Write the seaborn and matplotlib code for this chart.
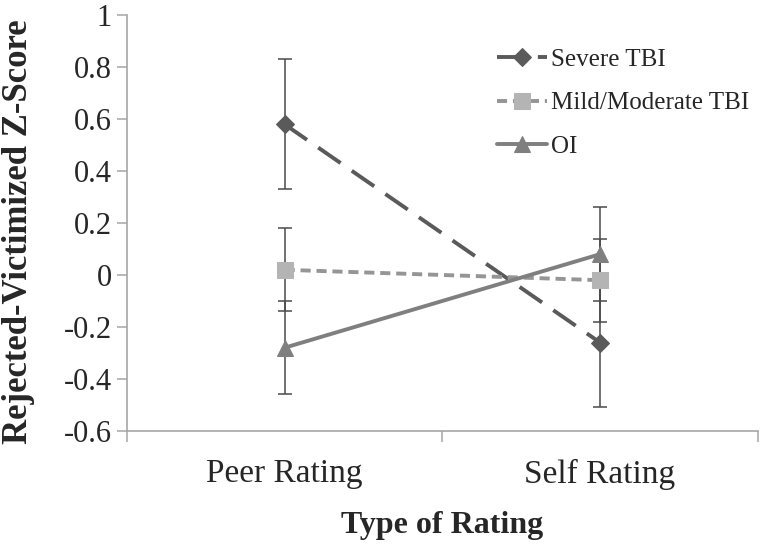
import numpy as np
import pandas as pd
import matplotlib
matplotlib.use("Agg")
import matplotlib.pyplot as plt
import seaborn as sns

# data
ratings = ["Peer Rating", "Self Rating"]
groups = ["Severe TBI", "Mild/Moderate TBI", "OI"]
severe_mean = [0.58, -0.26]
severe_err = [0.25, 0.25]
mild_mean = [0.02, -0.02]
mild_err = [0.16, 0.16]
oi_mean = [-0.28, 0.08]
oi_err = [0.18, 0.18]

means = [severe_mean, mild_mean, oi_mean]
errs = [severe_err, mild_err, oi_err]

rows = []
for g, m in zip(groups, means):
    for r, v in zip(ratings, m):
        rows.append({"Rating": r, "Group": g, "Z": v})
df = pd.DataFrame(rows)

sns.set_theme(style="white")
plt.rcParams["font.family"] = ["Liberation Serif", "DejaVu Serif"]

fig, ax = plt.subplots(figsize=(7.6, 5.44), dpi=100)
fig.subplots_adjust(left=0.167, right=0.997, top=0.972, bottom=0.208)

line_colors = {"Severe TBI": "#5a5a5a", "Mild/Moderate TBI": "#959595", "OI": "#7f7f7f"}
marker_colors = {"Severe TBI": "#5a5a5a", "Mild/Moderate TBI": "#b4b4b4", "OI": "#7f7f7f"}
markers = {"Severe TBI": "D", "Mild/Moderate TBI": "s", "OI": "^"}
msize = {"Severe TBI": 9, "Mild/Moderate TBI": 11, "OI": 12}
dashes = {"Severe TBI": (7, 3.5), "Mild/Moderate TBI": (2.6, 1.5), "OI": ""}

# error bars first so lines sit on top
for g, m, e in zip(groups, means, errs):
    ax.errorbar([0, 1], m, yerr=e, fmt="none", ecolor="#4a4a4a",
                elinewidth=1.1, capsize=5, capthick=1.1, zorder=2)

for g in groups:
    sub = df[df["Group"] == g]
    sns.lineplot(data=sub, x="Rating", y="Z", ax=ax, color=line_colors[g],
                 linewidth=2.8, dashes=False, label=g, zorder=3,
                 marker=markers[g], markersize=msize[g],
                 markerfacecolor=marker_colors[g], markeredgecolor=marker_colors[g])
    if dashes[g]:
        ax.lines[-1].set_dashes(dashes[g])

ax.set_xlim(-0.5, 1.5)
ax.set_ylim(-0.6, 1.0)
ax.set_yticks(np.arange(-0.6, 1.01, 0.2))
ax.set_yticklabels(["-0.6", "-0.4", "-0.2", "0", "0.2", "0.4", "0.6", "0.8", "1"])
ax.set_xticks([0, 1])
ax.set_xticks([-0.5, 0.5, 1.5], minor=True)

for s in ["top", "right"]:
    ax.spines[s].set_visible(False)
for s in ["left", "bottom"]:
    ax.spines[s].set_color("#a6a6a6")
    ax.spines[s].set_linewidth(1.2)

ax.tick_params(axis="y", which="major", length=7, width=1.1, color="#a6a6a6",
               direction="out", left=True, labelsize=22, pad=4)
ax.tick_params(axis="x", which="major", length=0, labelsize=24, pad=20)
ax.tick_params(axis="x", which="minor", length=8, width=1.1, color="#a6a6a6",
               direction="out", bottom=True)

ax.set_xlabel("Type of Rating", fontsize=23, fontweight="bold", labelpad=15)
ax.set_ylabel("Rejected-Victimized Z-Score", fontsize=25, fontweight="bold")
ax.yaxis.set_label_coords(-0.146, 0.478)

leg = ax.legend(loc="upper left", bbox_to_anchor=(0.551, 0.975), frameon=False,
                fontsize=18, handlelength=2.0, handletextpad=0.15, labelspacing=0.85)

fig.savefig("out.png", dpi=100)
